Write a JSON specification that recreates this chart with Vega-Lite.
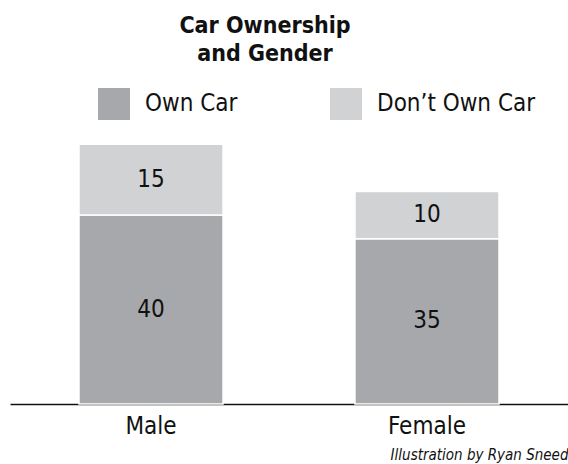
{
  "$schema": "https://vega.github.io/schema/vega-lite/v6.json",
  "width": 558,
  "height": 274,
  "autosize": {"type": "none"},
  "padding": {"left": 10, "top": 130, "right": 0, "bottom": 60},
  "background": "white",
  "config": {"view": {"stroke": null}},
  "title": {
    "text": ["Car Ownership", "and Gender"],
    "anchor": "middle",
    "frame": "group",
    "dx": -24,
    "fontSize": 23,
    "fontWeight": "bold",
    "lineHeight": 28,
    "color": "#111111",
    "font": "DejaVu Sans Condensed, sans-serif",
    "offset": 22
  },
  "data": {
    "values": [
      {"gender": "Male", "status": "Own Car", "count": 40},
      {"gender": "Male", "status": "Don’t Own Car", "count": 15},
      {"gender": "Female", "status": "Own Car", "count": 35},
      {"gender": "Female", "status": "Don’t Own Car", "count": 10}
    ]
  },
  "transform": [
    {"stack": "count", "groupby": ["gender"], "sort": [{"field": "status", "order": "descending"}], "as": ["v0", "v1"]},
    {"calculate": "(datum.v0 + datum.v1) / 2", "as": "mid"}
  ],
  "encoding": {
    "x": {
      "field": "gender",
      "type": "nominal",
      "sort": ["Male", "Female"],
      "scale": {"paddingInner": 0.478, "paddingOuter": 0.25},
      "axis": {
        "title": "Illustration by Ryan Sneed",
        "titleAnchor": "end",
        "titleFont": "DejaVu Sans Condensed, sans-serif",
        "titleFontStyle": "italic",
        "titleFontWeight": "normal",
        "titleFontSize": 15,
        "titleColor": "#111111",
        "titlePadding": 9,
        "labelAngle": 0,
        "labelFont": "DejaVu Sans Condensed, sans-serif",
        "labelFontSize": 24,
        "labelColor": "#111111",
        "labelPadding": 10,
        "ticks": false,
        "domainColor": "#111111",
        "domainWidth": 1.5,
        "grid": false
      }
    }
  },
  "layer": [
    {
      "mark": {"type": "bar", "stroke": "white", "strokeWidth": 1.5},
      "encoding": {
        "y": {
          "field": "v1",
          "type": "quantitative",
          "scale": {"domain": [0, 58], "nice": false},
          "axis": null
        },
        "y2": {"field": "v0"},
        "color": {
          "field": "status",
          "type": "nominal",
          "scale": {"domain": ["Own Car", "Don’t Own Car"], "range": ["#a7a8ab", "#d1d2d4"]},
          "legend": {
            "title": null,
            "orient": "none",
            "legendX": 88,
            "legendY": -42,
            "direction": "horizontal",
            "symbolType": "square",
            "symbolSize": 1024,
            "symbolStrokeWidth": 0,
            "symbolOpacity": 1,
            "labelFont": "DejaVu Sans Condensed, sans-serif",
            "labelFontSize": 24,
            "labelColor": "#111111",
            "labelOffset": 15,
            "labelLimit": 300,
            "columnPadding": 92,
            "padding": 0
          }
        }
      }
    },
    {
      "mark": {"type": "text", "font": "DejaVu Sans Condensed, sans-serif", "fontSize": 24, "color": "#111111", "baseline": "middle"},
      "encoding": {
        "y": {"field": "mid", "type": "quantitative"},
        "text": {"field": "count", "type": "quantitative"}
      }
    }
  ]
}
